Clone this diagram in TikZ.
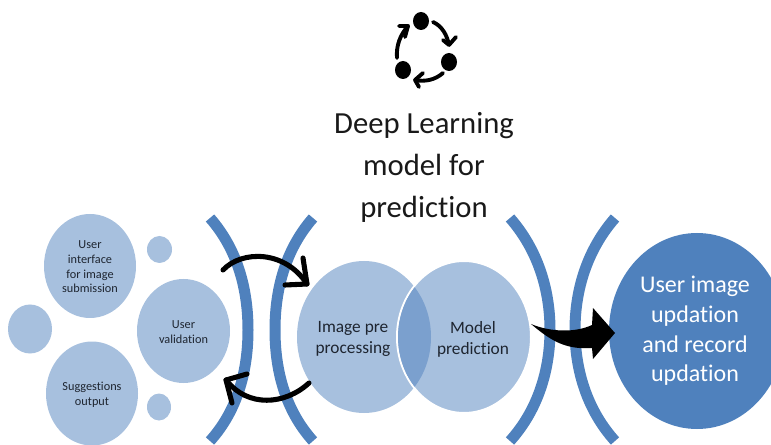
\documentclass[tikz,border=0pt]{standalone}
\usepackage{fontspec}
\setmainfont{Carlito}[Ligatures=NoCommon]
\usetikzlibrary{shapes.geometric,calc}
\definecolor{lightb}{HTML}{A7C0DE}
\definecolor{midb}{HTML}{7BA0CE}
\definecolor{darkb}{HTML}{4F81BD}
\definecolor{ink}{HTML}{1E2530}
\tikzset{
 px/.style={x=0.75pt,y=-0.75pt},
 disc/.style={ellipse,fill=lightb,inner sep=0pt,align=center,text=ink},
 sz/.style 2 args={minimum width=#1*1.5pt,minimum height=#2*1.5pt},
 small/.style={font=\fontsize{9.2}{11}\selectfont},
 medium/.style={font=\fontsize{13}{15.8}\selectfont},
 bow/.style={draw=darkb,line width=8.25pt,line cap=butt},
 loopa/.style={draw=black,line width=3.8pt,line cap=round,line join=round},
 iconarrow/.style={draw=black,line width=2.9pt,line cap=round,line join=round},
 dot/.style={ellipse,fill=black,inner sep=0pt,minimum width=12pt,minimum height=13.5pt},
}
\begin{document}
\begin{tikzpicture}[px]
\useasboundingbox (0,0) rectangle (771,445);
\clip (0,0) rectangle (771,445);
% bows
\draw[bow] (210,218) .. controls (238,250) and (248,290) .. (248,330) .. controls (248,370) and (238,410) .. (210,441);
\draw[bow] (313,218) .. controls (285,250) and (275,290) .. (275,330) .. controls (275,370) and (285,410) .. (313,441);
\draw[bow] (510,218) .. controls (538,250) and (550,290) .. (550,330) .. controls (550,370) and (538,410) .. (510,441);
\draw[bow] (615,218) .. controls (587,250) and (575,290) .. (575,330) .. controls (575,370) and (587,410) .. (615,441);
% left discs
\node[ellipse,fill=lightb,sz={46}{52},inner sep=0pt] (ui) at (90,266) {};
\node[small,align=center,text=ink] (uit) at (90,267) {User\\interface\\for image\\submission};
\node[ellipse,fill=lightb,sz={46}{52},inner sep=0pt] (sug) at (92,393.5) {};
\node[small,align=center,text=ink] (sugt) at (92,394.5) {Suggestions\\output};
\node[ellipse,fill=lightb,sz={46.5}{52},inner sep=0pt] (val) at (183.5,331) {};
\node[small,align=center,text=ink] (valt) at (183.5,332) {User\\validation};
\node[disc,sz={12.5}{13.5}] (s1) at (159.5,249.5) {};
\node[disc,sz={22}{24.5}] (s2) at (30,329) {};
\node[disc,sz={12}{13.5}] (s3) at (159,407) {};
% centre discs
\node[disc,sz={67}{76}] (pre) at (364,337) {};
\node[disc,sz={67}{76},draw=white,line width=1.5pt] (model) at (464,337) {};
\begin{scope}
\clip (364,337) ellipse [x radius=67,y radius=76];
\fill[midb] (464,337) ellipse [x radius=66,y radius=75];
\end{scope}
\node[medium,align=center,text=ink] (pret) at (353,339) {Image pre\\processing};
\node[medium,align=center,text=ink] (modt) at (473,339) {Model\\prediction};
% right disc
\node[ellipse,fill=darkb,inner sep=0pt,sz={88}{98}] (upd) at (697,331) {};
\node[align=center,text=white,font=\fontsize{18}{22.3}\selectfont] (updt) at (695,331) {User image\\updation\\and record\\updation};
% title
\node[align=center,text=black!90,font=\fontsize{23}{31.5}\selectfont] (title) at (424,167) {Deep Learning\\model for\\prediction};
% icon
\node[dot] (d1) at (421,21) {};
\node[dot] (d2) at (449,62) {};
\node[dot] (d3) at (403,70) {};
\coordinate (i1s) at (433,22); \coordinate (i1t) at (449,45);
\coordinate (i2s) at (443,73); \coordinate (i2t) at (415,80);
\coordinate (i3s) at (397,58); \coordinate (i3t) at (408,26);
\draw[iconarrow] (i1s) .. controls (442,26) and (447,35) .. (i1t);
\draw[iconarrow] (443,40) -- (i1t) -- (456,37);
\draw[iconarrow] (i2s) .. controls (435,80) and (425,82) .. (i2t);
\draw[iconarrow] (423,73) -- (i2t) -- (419,87);
\draw[iconarrow] (i3s) .. controls (396,46) and (400,35) .. (i3t);
\draw[iconarrow] (399,26) -- (i3t) -- (405,37);
% loop arrows
\coordinate (a1) at (223,270);
\coordinate (a2) at (307,284);
\coordinate (b1) at (309,383);
\coordinate (b2) at (226,380);
\draw[loopa] (a1) .. controls (242,250) and (285,250) .. (a2);
\draw[loopa] (303,258) -- (a2) -- (285,285);
\draw[loopa] (b1) .. controls (285,405) and (248,408) .. (b2);
\draw[loopa] (247,374) -- (b2) -- (232,403);
% big arrow
\fill[black] (531,324) .. controls (550,332) and (575,333) .. (592,325)
 -- (593,308) -- (615,333) -- (593,359) -- (592,348)
 .. controls (565,350) and (550,340) .. cycle;
\end{tikzpicture}
\end{document}
